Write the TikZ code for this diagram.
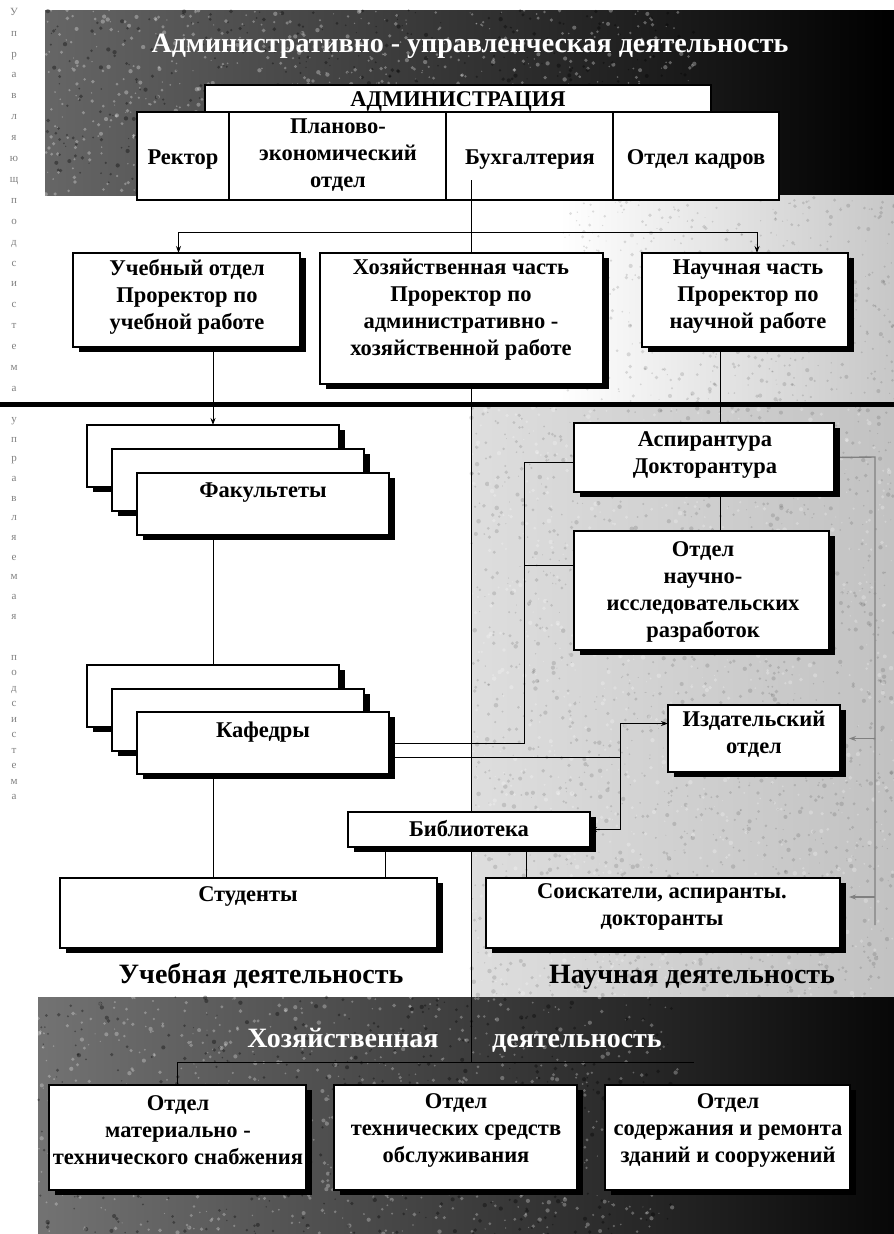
\documentclass[tikz,border=0pt]{standalone}
\usepackage{fontspec}
\setmainfont{Liberation Serif}
\usetikzlibrary{shadows,arrows.meta}
\pgfdeclarelayer{front}
\pgfsetlayers{main,front}
\begin{document}
\begin{tikzpicture}[x=1pt,y=-1pt,
  sbox/.style={draw=black,line width=1.3pt,fill=white,inner sep=0pt,outer sep=0pt,
    drop shadow={shadow xshift=6pt,shadow yshift=-5pt,fill=black,opacity=1}},
  cellbox/.style={draw=black,line width=1.2pt,fill=white,inner sep=0pt,outer sep=0pt},
  txt/.style={font=\fontsize{22.5}{27}\selectfont\bfseries,align=center,inner sep=0pt},
  stxt/.style={txt,anchor=mid,yshift=-5pt},
  bigtxt/.style={font=\fontsize{28}{32}\selectfont\bfseries,inner sep=0pt,anchor=mid,yshift=-5pt},
  sidetxt/.style={font=\fontsize{11}{12}\selectfont,text=black!50,inner sep=0pt,anchor=mid},
  conn/.style={line width=0.9pt,black},
  arr/.style={-{Stealth[length=7pt,width=5pt]}},
  gline/.style={line width=1.4pt,black!50},
]
\newcommand\bx[6][sbox]{\node[#1,minimum width={#4-#2},minimum height={#5-#3}] (#6) at ({(#2+#4)/2},{(#3+#5)/2}) {};}
\useasboundingbox (0,0) rectangle (894,1234);

% ---------- backgrounds ----------
\fill[white] (0,0) rectangle (894,1234);
\shade[left color=black!60, middle color=black!75, right color=black] (45,10) rectangle (894,195);
\shade[left color=white, right color=black!22] (560,195) rectangle (894,402);
\shade[left color=black!13, right color=black!24] (471,407) rectangle (894,997);
\shade[left color=black!55, middle color=black!78, right color=black!97] (38,997) rectangle (894,1234);
\pgfmathsetseed{11}
\foreach \i in {1,...,800}{\fill[white,opacity=0.3] ({45+650*rnd},{10+185*rnd}) circle[radius={0.6+1.6*rnd}];}
\foreach \i in {1,...,500}{\fill[black,opacity=0.35] ({45+650*rnd},{10+185*rnd}) circle[radius={0.6+1.6*rnd}];}
\foreach \i in {1,...,600}{\fill[black,opacity=0.12] ({560+334*rnd},{195+207*rnd}) circle[radius={0.5+1.6*rnd}];}
\foreach \i in {1,...,1800}{\fill[black,opacity=0.12] ({471+423*rnd},{407+590*rnd}) circle[radius={0.5+1.8*rnd}];}
\foreach \i in {1,...,1000}{\fill[white,opacity=0.25] ({471+423*rnd},{407+590*rnd}) circle[radius={0.5+1.8*rnd}];}
\foreach \i in {1,...,800}{\fill[white,opacity=0.28] ({38+640*rnd},{997+237*rnd}) circle[radius={0.6+1.6*rnd}];}
\foreach \i in {1,...,500}{\fill[black,opacity=0.35] ({38+640*rnd},{997+237*rnd}) circle[radius={0.6+1.6*rnd}];}

% side letters
\foreach \c [count=\i] in {У,п,р,а,в,л,я,ю,щ,п,о,д,с,и,с,т,е,м,а}
  \node[sidetxt] (lt\i) at (14,{13+(\i-1)*20.9}) {\c};
\foreach \c [count=\i] in {у,п,р,а,в,л,я,е,м,а,я}
  \node[sidetxt] (lb\i) at (14,{420+(\i-1)*19.7}) {\c};
\foreach \c [count=\i] in {п,о,д,с,и,с,т,е,м,а}
  \node[sidetxt] (lc\i) at (14,{658+(\i-1)*15.5}) {\c};

% ---------- boxes (front layer) ----------
\begin{pgfonlayer}{front}
\bx[cellbox]{205}{85}{711}{112}{adm}
\bx[cellbox]{137}{112}{229}{200}{rek}
\bx[cellbox]{229}{112}{446}{200}{plan}
\bx[cellbox]{446}{112}{613}{200}{buh}
\bx[cellbox]{613}{112}{779}{200}{kad}
\bx{73}{253}{300}{347}{uch}
\bx{320}{253}{603}{384}{hoz}
\bx{642}{253}{848}{347}{nauch}
\bx{87}{425}{339}{487}{fak1}
\bx{112}{449}{364}{511}{fak2}
\bx{137}{473}{389}{535}{fak3}
\bx{87}{665}{339}{727}{kaf1}
\bx{112}{689}{364}{751}{kaf2}
\bx{137}{712}{389}{774}{kaf3}
\bx{574}{423}{834}{492}{asp}
\bx{574}{531}{829}{650}{nir}
\bx{668}{705}{840}{772}{izd}
\bx{348}{812}{590}{847}{bib}
\bx{60}{878}{437}{948}{stud}
\bx{486}{878}{840}{948}{soi}
\bx{49}{1085}{306}{1190}{otd1}
\bx{334}{1085}{577}{1190}{otd2}
\bx{605}{1085}{850}{1190}{otd3}
\end{pgfonlayer}

% coordinates for connectors
\coordinate (vtop) at (471,180);
\coordinate (j1) at (471,232);
\coordinate (hj) at (471,1062);
\coordinate (hr) at (694,1062);
\coordinate (cA) at (524,743);
\coordinate (cB) at (620,757);
\coordinate (rtop) at (875,457);
\coordinate (rbot) at (875,925);
\coordinate (sepL) at (0,404);
\coordinate (sepR) at (894,404);
\coordinate (uchN) at ([xshift=-8pt]uch.north);
\coordinate (nauchN) at ([xshift=12pt]nauch.north);
\coordinate (aspN) at ([xshift=16pt]asp.north);
\coordinate (aspW) at ([yshift=-5pt]asp.west);
\coordinate (nirW) at ([yshift=25pt]nir.west);
\coordinate (kafE2) at ([yshift=-14pt]kaf3.east);
\coordinate (izdW) at ([yshift=15pt]izd.west);
\coordinate (izdE) at ([xshift=9pt]izd.east);
\coordinate (soiE) at ([xshift=9pt,yshift=16pt]soi.east);
\coordinate (bibS1) at ([xshift=-84pt]bib.south);
\coordinate (bibS2) at ([xshift=57pt]bib.south);

% ---------- connectors (main layer, under the boxes) ----------
\draw[line width=5pt] (sepL) -- (sepR);
\draw[conn] (vtop) -- (hj);
\draw[conn,arr] (j1) -| (uchN);
\draw[conn,arr] (j1) -| (nauchN);
\draw[conn,arr] (fak1.north |- uch.south) -- (fak1.north);
\draw[conn] (kaf1.north |- fak3.south) -- (kaf1.north);
\draw[conn] (kaf1.north |- kaf3.south) -- (kaf1.north |- stud.north);
\draw[conn] (aspN |- nauch.south) -- (aspN);
\draw[conn] (aspN |- asp.south) -- (aspN |- nir.north);
\draw[conn] (kaf3.east) -- (cA) |- (aspW);
\draw[conn] (cA |- nirW) -- (nirW);
\draw[conn] (kafE2) -- (cB);
\draw[conn,arr] (cB) |- (izdW);
\draw[conn,arr] (cB) |- (bib.east);
\draw[conn] (bibS1) -- (bibS1 |- stud.north);
\draw[conn] (bibS2) -- (bibS2 |- soi.north);
\draw[gline] (asp.east) -- (rtop) -- (rbot);
\draw[gline,arr] (rtop |- izdE) -- (izdE);
\draw[gline,arr] (rbot |- soiE) -- (soiE);
\draw[conn] (otd1.north |- hj) -- (hr);
\draw[conn] (otd1.north |- hj) -- (otd1.north);

% ---------- texts (front layer) ----------
\begin{pgfonlayer}{front}
\draw[conn] (vtop) -- (vtop |- buh.south);
\node[bigtxt,text=white] (title) at (470,45) {Административно - управленческая деятельность};
\node[stxt] (admT) at (458,99) {АДМИНИСТРАЦИЯ};
\node[stxt] (rekT) at (183,157) {Ректор};
\node[txt] (planT) at (338,155) {Планово-\\экономический\\отдел};
\node[stxt] (buhT) at (530,157) {Бухгалтерия};
\node[stxt] (kadT) at (696,157) {Отдел кадров};
\node[txt] (uchT) at (187,297) {Учебный отдел\\Проректор по\\учебной работе};
\node[txt] (hozT) at (461,310) {Хозяйственная часть\\Проректор по\\административно -\\хозяйственной работе};
\node[txt] (nauchT) at (748,297) {Научная часть\\Проректор по\\научной работе};
\node[stxt] (fakT) at (263,490) {Факультеты};
\node[stxt] (kafT) at (263,730) {Кафедры};
\node[txt] (aspT) at (705,455) {Аспирантура\\Докторантура};
\node[txt] (nirT) at (703,592) {Отдел\\научно-\\исследовательских\\разработок};
\node[txt] (izdT) at (754,734) {Издательский\\отдел};
\node[stxt] (bibT) at (469,829) {Библиотека};
\node[stxt] (studT) at (248,894) {Студенты};
\node[txt] (soiT) at (662,907) {Соискатели, аспиранты.\\докторанты};
\node[bigtxt] (uchD) at (261,976) {Учебная деятельность};
\node[bigtxt] (nauD) at (692,976) {Научная деятельность};
\node[bigtxt,text=white] (hozD1) at (343,1040) {Хозяйственная};
\node[bigtxt,text=white] (hozD2) at (577,1040) {деятельность};
\node[txt] (otdAT) at (178,1130) {Отдел\\материально -\\технического снабжения};
\node[txt] (otdBT) at (456,1130) {Отдел\\технических средств\\обслуживания};
\node[txt] (otdCT) at (728,1130) {Отдел\\содержания и ремонта\\зданий и сооружений};
\end{pgfonlayer}
\end{tikzpicture}
\end{document}
